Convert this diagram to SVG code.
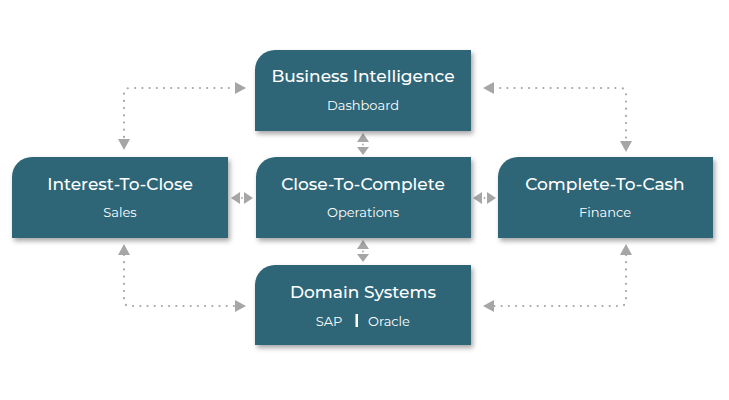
<svg xmlns="http://www.w3.org/2000/svg" width="729" height="400" viewBox="0 0 729 400">
<style>
.box{fill:#2d6678;filter:url(#sh)}
.t{font-family:"Montserrat","Open Sans","Liberation Sans",sans-serif;font-weight:500;font-size:17px;fill:#fff;text-anchor:middle}
.s{font-family:"Montserrat","Open Sans","Liberation Sans",sans-serif;font-size:13px;fill:#fff;text-anchor:middle}
.dot{fill:none;stroke:#a6a6a6;stroke-width:2.2;stroke-linecap:round;stroke-dasharray:0 7.2}
.ah{fill:#a6a6a6}
</style>
<defs>
<filter id="sh" x="-10%" y="-15%" width="125%" height="140%">
<feDropShadow dx="2" dy="3" stdDeviation="2.5" flood-color="#000" flood-opacity="0.35"/>
</filter>
</defs>
<rect width="729" height="400" fill="#fff"/>
<g id="connectors">
<path class="dot" d="M236 88 H130 Q124 88 124 94 V140"/>
<polygon class="ah" points="246,88 235,82 235,94"/>
<polygon class="ah" points="124,150 118,139 130,139"/>
<path class="dot" d="M493 88 H620 Q626 88 626 94 V142"/>
<polygon class="ah" points="483,88 494,82 494,94"/>
<polygon class="ah" points="626,152 620,141 632,141"/>
<path class="dot" d="M124 255 V300 Q124 306 130 306 H236"/>
<polygon class="ah" points="124,244 118,255 130,255"/>
<polygon class="ah" points="246,306 235,300 235,312"/>
<path class="dot" d="M626 255 V300 Q626 306 620 306 H494"/>
<polygon class="ah" points="626,244 620,255 632,255"/>
<polygon class="ah" points="483,306 494,300 494,312"/>
<polygon class="ah" points="363,133 357,142 369,142"/>
<polygon class="ah" points="363,155 357,147 369,147"/>
<circle class="ah" cx="363" cy="144.5" r="0.9"/>
<polygon class="ah" points="363,240 357,249 369,249"/>
<polygon class="ah" points="363,262 357,254 369,254"/>
<circle class="ah" cx="363" cy="251.5" r="0.9"/>
<polygon class="ah" points="231,198 240,192 240,204"/>
<polygon class="ah" points="253,198 244,192 244,204"/>
<circle class="ah" cx="242" cy="198" r="0.9"/>
<polygon class="ah" points="473,198 482,192 482,204"/>
<polygon class="ah" points="496,198 487,192 487,204"/>
<circle class="ah" cx="484.5" cy="198" r="0.9"/>
</g>
<g id="business-intelligence">
<path class="box" d="M275 50 H471 V131 H255 V70 A20 20 0 0 1 275 50 Z"/>
<text class="t" x="363" y="82">Business Intelligence</text>
<text class="s" x="363" y="110">Dashboard</text>
</g>
<g id="interest-to-close">
<path class="box" d="M32 157 H228 V238 H12 V177 A20 20 0 0 1 32 157 Z"/>
<text class="t" x="120" y="190">Interest-To-Close</text>
<text class="s" x="120" y="217">Sales</text>
</g>
<g id="close-to-complete">
<path class="box" d="M276 157 H471 V238 H256 V177 A20 20 0 0 1 276 157 Z"/>
<text class="t" x="363" y="190">Close-To-Complete</text>
<text class="s" x="363" y="217">Operations</text>
</g>
<g id="complete-to-cash">
<path class="box" d="M518 157 H713 V238 H498 V177 A20 20 0 0 1 518 157 Z"/>
<text class="t" x="605" y="190">Complete-To-Cash</text>
<text class="s" x="605" y="217">Finance</text>
</g>
<g id="domain-systems">
<path class="box" d="M275 265 H471 V345 H255 V285 A20 20 0 0 1 275 265 Z"/>
<text class="t" x="363" y="298">Domain Systems</text>
<text class="s" x="329" y="326">SAP</text>
<rect x="355.5" y="314" width="2.5" height="13" fill="#fff"/>
<text class="s" x="389" y="326">Oracle</text>
</g>
</svg>
